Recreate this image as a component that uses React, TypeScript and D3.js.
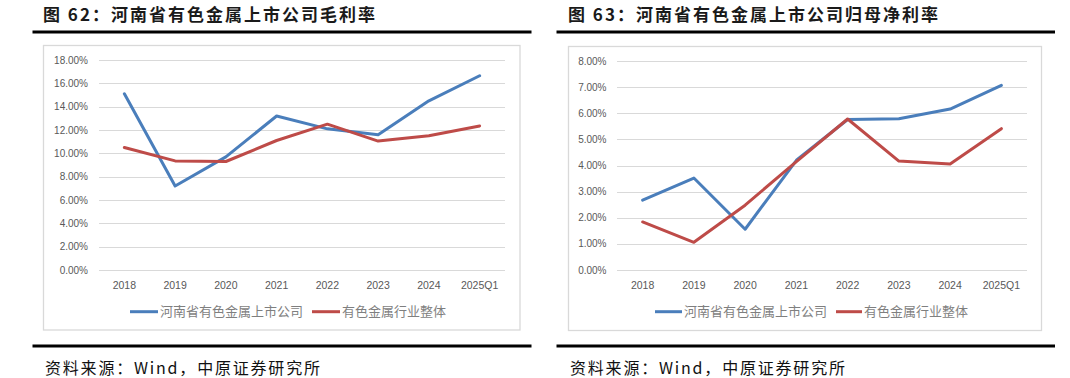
import React from "react";
import * as d3 from "d3";

const categories = ["2018", "2019", "2020", "2021", "2022", "2023", "2024", "2025Q1"];
const seriesNames = ["河南省有色金属上市公司", "有色金属行业整体"];

// 图62 毛利率 (%)
const grossHenan = [15.1, 7.2, 9.7, 13.2, 12.1, 11.6, 14.5, 16.65];
const grossIndustry = [10.5, 9.35, 9.3, 11.1, 12.5, 11.05, 11.5, 12.35];

// 图63 归母净利率 (%)
const netHenan = [2.67, 3.52, 1.56, 4.2, 5.76, 5.79, 6.16, 7.07];
const netIndustry = [1.84, 1.06, 2.48, 4.15, 5.78, 4.17, 4.06, 5.41];

const grossTicks = [0, 2, 4, 6, 8, 10, 12, 14, 16, 18];
const netTicks = [0, 1, 2, 3, 4, 5, 6, 7, 8];

const titles = ["图 62：河南省有色金属上市公司毛利率", "图 63：河南省有色金属上市公司归母净利率"];
const sourceText = "资料来源：Wind，中原证券研究所";

const COLORS = ["#4a7ebb", "#be4b48"];

type PanelCfg = {
  title: string;
  ruleX1: number;
  ruleX2: number;
  boxX: number;
  boxY: number;
  boxX2: number;
  boxY2: number;
  plotX0: number;
  plotX1: number;
  yTop: number;
  yBottom: number;
  ticks: number[];
  tickRight: number;
  series: number[][];
  legendItems: { x1: number; x2: number; tx: number }[];
};

const panels: PanelCfg[] = [
  {
    title: titles[0],
    ruleX1: 32.5,
    ruleX2: 531.5,
    boxX: 43.5,
    boxY: 45.5,
    boxX2: 520,
    boxY2: 330,
    plotX0: 99,
    plotX1: 505,
    yTop: 60,
    yBottom: 270,
    ticks: grossTicks,
    tickRight: 88,
    series: [grossHenan, grossIndustry],
    legendItems: [
      { x1: 130, x2: 158, tx: 160 },
      { x1: 312, x2: 340, tx: 342 },
    ],
  },
  {
    title: titles[1],
    ruleX1: 556.5,
    ruleX2: 1055,
    boxX: 568.5,
    boxY: 46.5,
    boxX2: 1041.5,
    boxY2: 330.5,
    plotX0: 617,
    plotX1: 1027,
    yTop: 61,
    yBottom: 270,
    ticks: netTicks,
    tickRight: 606.5,
    series: [netHenan, netIndustry],
    legendItems: [
      { x1: 655, x2: 682, tx: 684 },
      { x1: 836, x2: 862, tx: 864 },
    ],
  },
];

function Panel({ p }: { p: PanelCfg }) {
  const x = d3.scalePoint<string>().domain(categories).range([p.plotX0, p.plotX1]).padding(0.5);
  const yMax = p.ticks[p.ticks.length - 1];
  const y = d3.scaleLinear().domain([0, yMax]).range([p.yBottom, p.yTop]);
  const line = d3
    .line<number>()
    .x((_, i) => x(categories[i]) as number)
    .y((v) => y(v));
  const legendY = 311.7;
  return (
    <g>
      <text
        x={p.boxX - 0.5}
        y={21}
        fontFamily="'Noto Sans CJK SC', sans-serif"
        fontWeight="bold"
        fontSize={17}
        letterSpacing={2}
        fill="#1a1a1a"
      >
        {p.title}
      </text>
      <line x1={p.ruleX1} x2={p.ruleX2} y1={32} y2={32} stroke="#000" strokeWidth={3} />
      <rect
        x={p.boxX}
        y={p.boxY}
        width={p.boxX2 - p.boxX}
        height={p.boxY2 - p.boxY}
        fill="#fff"
        stroke="#d9d9d9"
        strokeWidth={1.3}
      />
      {p.ticks.map((t) => (
        <g key={t}>
          <line
            x1={p.plotX0}
            x2={p.plotX1}
            y1={Math.round(y(t)) + 0.5}
            y2={Math.round(y(t)) + 0.5}
            stroke="#d9d9d9"
            strokeWidth={1}
          />
          <text
            x={p.tickRight}
            y={y(t)}
            dy="0.35em"
            textAnchor="end"
            fontFamily="'Liberation Sans', Arial, sans-serif"
            fontSize={10}
            fill="#595959"
          >
            {t.toFixed(2) + "%"}
          </text>
        </g>
      ))}
      {categories.map((c) => (
        <text
          key={c}
          x={x(c)}
          y={289}
          textAnchor="middle"
          fontFamily="'Liberation Sans', Arial, sans-serif"
          fontSize={10.5}
          fill="#595959"
        >
          {c}
        </text>
      ))}
      {p.series.map((s, i) => (
        <path
          key={i}
          d={line(s) || ""}
          fill="none"
          stroke={COLORS[i]}
          strokeWidth={3}
          strokeLinejoin="round"
          strokeLinecap="round"
        />
      ))}
      {p.legendItems.map((li, i) => (
        <g key={i}>
          <line x1={li.x1} x2={li.x2} y1={legendY} y2={legendY} stroke={COLORS[i]} strokeWidth={3} />
          <text
            x={li.tx}
            y={legendY}
            dy="0.36em"
            fontFamily="'Noto Sans CJK SC', sans-serif"
            fontSize={13}
            fill="#7f7f7f"
          >
            {seriesNames[i]}
          </text>
        </g>
      ))}
      <line x1={p.ruleX1} x2={p.ruleX2} y1={346} y2={346} stroke="#000" strokeWidth={3} />
      <text
        x={p.boxX + 1.5}
        y={374}
        fontFamily="'Noto Sans CJK SC', sans-serif"
        fontSize={16}
        letterSpacing={1.8}
        fill="#111"
      >
        {sourceText}
      </text>
    </g>
  );
}

export default function App() {
  return (
    <svg
      width={1070}
      height={378}
      style={{ position: "absolute", left: 0, top: 0, background: "#fff" }}
    >
      <rect x={0} y={0} width={1070} height={378} fill="#fff" />
      {panels.map((p, i) => (
        <Panel key={i} p={p} />
      ))}
    </svg>
  );
}
